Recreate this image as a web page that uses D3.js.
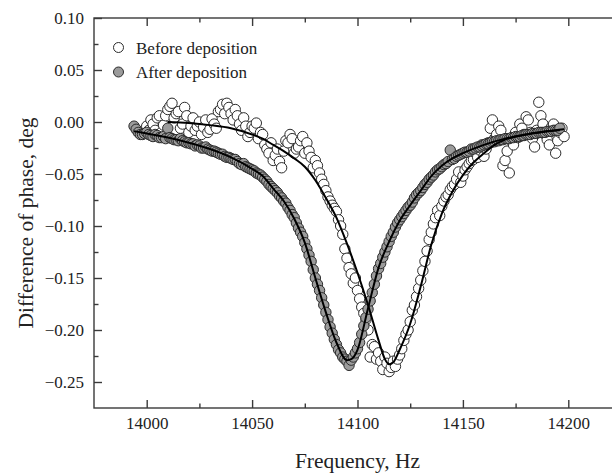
<!DOCTYPE html>
<html>
<head>
<meta charset="utf-8">
<script src="https://cdn.jsdelivr.net/npm/d3@7"></script>
<style>
  body { margin: 0; background: #fff; }
  svg text { font-family: "Liberation Serif", "Times New Roman", serif; fill: #222; }
</style>
</head>
<body>
<svg id="chart" width="612" height="476"></svg>
<script>
// tick values
var xMajor = [14000, 14050, 14100, 14150, 14200];
var xMinor = [14025, 14075, 14125, 14175];
var yMajor = [0.10, 0.05, 0.00, -0.05, -0.10, -0.15, -0.20, -0.25];
var yMinor = [0.075, 0.025, -0.025, -0.075, -0.125, -0.175, -0.225];

// "Before deposition" measured points [Hz, deg]
var beforeData = [
  [14000,-0.004],[14002,0.002],[14004,-0.008],[14006,0.006],[14008,-0.003],[14010,0.012],
  [14012,0.018],[14014,0.008],[14016,-0.006],[14018,0.014],[14020,-0.010],[14022,0.004],
  [14024,-0.004],[14026,-0.012],[14028,0.002],[14030,-0.007],[14032,-0.002],[14034,0.010],
  [14036,0.017],[14038,0.018],[14040,0.008],[14042,0.012],[14044,-0.002],[14046,0.004],
  [14048,-0.014],[14050,-0.004],[14052,-0.001],[14054,-0.010],[14056,-0.022],[14058,-0.030],
  [14060,-0.037],[14062,-0.026],[14064,-0.044],[14066,-0.018],[14068,-0.012],[14070,-0.030],
  [14072,-0.024],[14074,-0.014],[14076,-0.020],[14078,-0.034],[14080,-0.037],[14082,-0.049],
  [14084,-0.060],[14086,-0.072],[14088,-0.080],[14089,-0.083],[14090,-0.086],[14091,-0.094],
  [14092,-0.100],[14093,-0.108],[14094,-0.122],[14095,-0.131],[14096,-0.140],[14097,-0.146],
  [14098,-0.155],[14099,-0.150],[14100,-0.162],[14101,-0.170],[14102,-0.178],[14103,-0.184],
  [14104,-0.190],[14105,-0.200],[14106,-0.226],[14107,-0.214],[14108,-0.216],[14109,-0.228],
  [14110,-0.222],[14111,-0.230],[14112,-0.238],[14113,-0.226],[14114,-0.232],[14115,-0.240],
  [14116,-0.236],[14117,-0.230],[14118,-0.235],[14119,-0.228],[14120,-0.224],[14121,-0.218],
  [14122,-0.210],[14123,-0.204],[14124,-0.200],[14125,-0.192],[14126,-0.181],[14127,-0.176],
  [14128,-0.168],[14129,-0.160],[14130,-0.152],[14131,-0.143],[14132,-0.134],[14133,-0.124],
  [14134,-0.113],[14135,-0.106],[14136,-0.098],[14137,-0.092],[14138,-0.085],[14139,-0.090],
  [14140,-0.081],[14141,-0.076],[14142,-0.072],[14144,-0.065],[14146,-0.060],[14148,-0.048],
  [14150,-0.052],[14152,-0.043],[14154,-0.037],[14156,-0.030],[14158,-0.027],[14160,-0.033],
  [14162,-0.020],[14164,0.002],[14166,-0.012],[14168,-0.008],[14170,-0.037],[14172,-0.049],
  [14174,-0.022],[14176,-0.015],[14178,-0.006],[14180,0.005],[14182,-0.010],[14184,-0.024],
  [14186,0.019],[14188,-0.002],[14190,-0.017],[14192,-0.005],[14194,-0.030],[14196,-0.010],
  [14198,-0.014]
];
// second pass of the same sweep, between the points above
var beforeData2 = [
  [14001,-0.008],[14003,-0.002],[14005,0.004],[14007,-0.010],[14009,0.006],[14011,0.015],
  [14013,0.004],[14015,0.010],[14017,-0.002],[14019,0.006],[14021,-0.004],[14023,-0.008],
  [14025,0.000],[14027,-0.005],[14029,-0.010],[14031,0.003],[14033,-0.006],[14035,0.012],
  [14037,0.008],[14039,0.014],[14041,0.002],[14043,0.006],[14045,-0.008],[14047,-0.004],
  [14049,-0.010],[14051,-0.006],[14053,-0.016],[14055,-0.012],[14057,-0.026],[14059,-0.020],
  [14061,-0.032],[14063,-0.038],[14065,-0.028],[14067,-0.020],[14069,-0.016],[14071,-0.026],
  [14073,-0.018],[14075,-0.030],[14077,-0.028],[14079,-0.044],[14081,-0.042],[14083,-0.055],
  [14085,-0.066],[14087,-0.076],
  [14143,-0.070],[14145,-0.062],[14147,-0.055],[14149,-0.058],[14151,-0.046],[14153,-0.040],
  [14155,-0.036],[14157,-0.034],[14159,-0.022],[14161,-0.026],[14163,-0.006],[14165,-0.016],
  [14167,-0.004],[14169,-0.042],[14171,-0.028],[14173,-0.018],[14175,-0.010],[14177,-0.002],
  [14179,-0.012],[14181,0.002],[14183,-0.016],[14185,-0.008],[14187,0.006],[14189,-0.012],
  [14191,-0.022],[14193,-0.002],[14195,-0.018],[14197,-0.006]
];

// "After deposition" measured points [Hz, deg]
var afterData = [
  [13994,-0.004],[13996,-0.010],[13998,-0.012],[14000,-0.010],[14002,-0.013],[14004,-0.012],
  [14006,-0.015],[14008,-0.014],[14010,-0.006],[14012,-0.016],[14014,-0.017],[14016,-0.016],
  [14018,-0.019],[14020,-0.020],[14022,-0.021],[14024,-0.022],[14026,-0.025],[14028,-0.024],
  [14030,-0.027],[14032,-0.028],[14034,-0.030],[14036,-0.031],[14038,-0.034],[14040,-0.035],
  [14042,-0.036],[14044,-0.040],[14046,-0.040],[14048,-0.044],[14050,-0.046],[14052,-0.049],
  [14054,-0.051],[14056,-0.055],[14058,-0.060],[14060,-0.064],[14061,-0.066],[14062,-0.068],
  [14063,-0.071],[14064,-0.073],[14065,-0.076],[14066,-0.078],[14067,-0.082],[14068,-0.085],
  [14069,-0.089],[14070,-0.092],[14071,-0.097],[14072,-0.102],[14073,-0.106],[14074,-0.110],
  [14075,-0.116],[14076,-0.122],[14077,-0.128],[14078,-0.134],[14079,-0.142],[14080,-0.150],
  [14081,-0.156],[14082,-0.162],[14083,-0.169],[14084,-0.176],[14085,-0.183],[14086,-0.190],
  [14087,-0.197],[14088,-0.203],[14089,-0.209],[14090,-0.214],[14091,-0.219],[14092,-0.222],
  [14093,-0.226],[14094,-0.228],[14095,-0.230],[14096,-0.234],[14097,-0.229],[14098,-0.226],
  [14099,-0.222],[14100,-0.218],[14101,-0.212],[14102,-0.204],[14103,-0.196],[14104,-0.188],
  [14105,-0.180],[14106,-0.172],[14107,-0.164],[14108,-0.156],[14109,-0.148],[14110,-0.141],
  [14111,-0.136],[14112,-0.130],[14113,-0.125],[14114,-0.120],[14115,-0.115],[14116,-0.110],
  [14117,-0.106],[14118,-0.101],[14119,-0.097],[14120,-0.094],[14121,-0.091],[14122,-0.088],
  [14123,-0.085],[14124,-0.082],[14125,-0.080],[14126,-0.077],[14127,-0.073],[14128,-0.070],
  [14130,-0.066],[14132,-0.060],[14134,-0.055],[14136,-0.051],[14138,-0.046],[14140,-0.043],
  [14142,-0.040],[14144,-0.027],[14146,-0.035],[14148,-0.032],[14150,-0.030],[14152,-0.029],
  [14154,-0.026],[14156,-0.025],[14158,-0.024],[14160,-0.022],[14162,-0.021],[14164,-0.019],
  [14166,-0.018],[14168,-0.017],[14170,-0.016],[14172,-0.016],[14174,-0.015],[14176,-0.014],
  [14178,-0.013],[14180,-0.012],[14182,-0.012],[14184,-0.011],[14186,-0.010],[14188,-0.010],
  [14190,-0.009],[14192,-0.009],[14194,-0.008],[14196,-0.006]
];
var afterData2 = [
  [13995,-0.007],[13997,-0.012],[13999,-0.011],[14001,-0.012],[14003,-0.014],[14005,-0.013],
  [14007,-0.015],[14009,-0.016],[14011,-0.015],[14013,-0.017],[14015,-0.018],[14017,-0.018],
  [14019,-0.020],[14021,-0.021],[14023,-0.023],[14025,-0.023],[14027,-0.025],[14029,-0.026],
  [14031,-0.028],[14033,-0.029],[14035,-0.031],[14037,-0.033],[14039,-0.034],[14041,-0.036],
  [14043,-0.038],[14045,-0.041],[14047,-0.043],[14049,-0.045],[14051,-0.047],[14053,-0.050],
  [14055,-0.053],[14057,-0.057],[14059,-0.062],
  [14129,-0.068],[14131,-0.063],[14133,-0.058],[14135,-0.053],[14137,-0.048],[14139,-0.045],
  [14141,-0.041],[14143,-0.038],[14145,-0.036],[14147,-0.033],[14149,-0.031],[14151,-0.029],
  [14153,-0.028],[14155,-0.026],[14157,-0.024],[14159,-0.023],[14161,-0.021],[14163,-0.020],
  [14165,-0.019],[14167,-0.018],[14169,-0.017],[14171,-0.016],[14173,-0.015],[14175,-0.014],
  [14177,-0.014],[14179,-0.013],[14181,-0.012],[14183,-0.011],[14185,-0.011],[14187,-0.010],
  [14189,-0.010],[14191,-0.009],[14193,-0.008],[14195,-0.008]
];

// fitted curves [Hz, deg]
var beforeFit = [
  [14010,0.000],[14020,-0.001],[14030,-0.003],[14040,-0.006],[14050,-0.012],[14055,-0.016],
  [14060,-0.022],[14065,-0.028],[14070,-0.035],[14075,-0.043],[14080,-0.056],[14085,-0.073],
  [14090,-0.092],[14095,-0.117],[14100,-0.145],[14105,-0.176],[14110,-0.210],[14113,-0.228],
  [14115,-0.233],[14117,-0.231],[14120,-0.219],[14125,-0.194],[14130,-0.158],[14135,-0.118],
  [14140,-0.088],[14145,-0.067],[14150,-0.051],[14155,-0.039],[14160,-0.030],[14165,-0.022],
  [14170,-0.017],[14180,-0.012],[14190,-0.009],[14198,-0.007]
];
var afterFit = [
  [13994,-0.009],[14000,-0.011],[14010,-0.015],[14020,-0.020],[14030,-0.026],[14040,-0.034],
  [14050,-0.045],[14055,-0.052],[14060,-0.064],[14065,-0.076],[14070,-0.093],[14075,-0.116],
  [14080,-0.150],[14085,-0.183],[14090,-0.212],[14095,-0.229],[14097,-0.228],[14100,-0.219],
  [14105,-0.179],[14110,-0.140],[14115,-0.115],[14120,-0.095],[14125,-0.080],[14130,-0.066],
  [14135,-0.052],[14140,-0.042],[14145,-0.035],[14150,-0.030],[14160,-0.022],[14170,-0.016],
  [14180,-0.012],[14190,-0.009],[14196,-0.008]
];

var legendItems = [
  {label: "Before deposition", fill: "#ffffff"},
  {label: "After deposition", fill: "#9b9b9b"}
];

//plot box (right edge runs past the window, as in the picture)
var plot = {left: 94, right: 621, top: 18, bottom: 408};

var x = d3.scaleLinear().domain([13975, 14225]).range([plot.left, plot.right]);
var y = d3.scaleLinear().domain([0.10, -0.275]).range([plot.top, plot.bottom]);

var svg = d3.select("#chart");
var axisColor = "#3a3a3a";

//frame
svg.append("rect")
    .attr("x", plot.left)
    .attr("y", plot.top)
    .attr("width", plot.right - plot.left)
    .attr("height", plot.bottom - plot.top)
    .attr("fill", "none")
    .attr("stroke", axisColor)
    .attr("stroke-width", 1.4);

//inward ticks on an axis, majors and minors
function drawTicks(axisFn, scale, values, size, pos, labels) {
    var g = svg.append("g")
        .attr("transform", pos)
        .call(axisFn(scale)
            .tickValues(values)
            .tickSizeInner(-size)
            .tickSizeOuter(0)
            .tickPadding(labels ? 9 : 0)
            .tickFormat(labels ? labels : ""));
    g.select(".domain").remove();
    g.selectAll(".tick line").attr("stroke", axisColor).attr("stroke-width", 1.4);
    return g;
}

var xb = drawTicks(d3.axisBottom, x, xMajor, 8, "translate(0," + plot.bottom + ")", d3.format("d"));
drawTicks(d3.axisBottom, x, xMinor, 4.5, "translate(0," + plot.bottom + ")", null);
drawTicks(d3.axisTop, x, xMajor, 8, "translate(0," + plot.top + ")", null);
drawTicks(d3.axisTop, x, xMinor, 4.5, "translate(0," + plot.top + ")", null);
var yl = drawTicks(d3.axisLeft, y, yMajor, 8, "translate(" + plot.left + ",0)", d3.format(".2f"));
drawTicks(d3.axisLeft, y, yMinor, 4.5, "translate(" + plot.left + ",0)", null);

xb.selectAll("text").attr("font-size", 17).attr("font-family", "Liberation Serif").attr("fill", "#222");
yl.selectAll("text").attr("font-size", 17).attr("font-family", "Liberation Serif").attr("fill", "#222")
    .attr("dx", -1);

//axis titles
svg.append("text")
    .attr("x", (plot.left + plot.right) / 2)
    .attr("y", 468)
    .attr("text-anchor", "middle")
    .attr("font-size", 21.5)
    .text("Frequency, Hz");

svg.append("text")
    .attr("transform", "translate(33,223) rotate(-90)")
    .attr("text-anchor", "middle")
    .attr("font-size", 21.5)
    .text("Difference of phase, deg");

//points: before first, after on top
var pointStroke = "#2b2b2b";
function drawPoints(data, fill) {
    svg.append("g").selectAll("circle")
        .data(data)
        .join("circle")
        .attr("cx", d => x(d[0]))
        .attr("cy", d => y(d[1]))
        .attr("r", 5.2)
        .attr("fill", fill)
        .attr("stroke", pointStroke)
        .attr("stroke-width", 1);
}
drawPoints(beforeData.concat(beforeData2).sort((a, b) => a[0] - b[0]), "#ffffff");
drawPoints(afterData.concat(afterData2).sort((a, b) => a[0] - b[0]), "#9b9b9b");

//fit lines
var line = d3.line()
    .x(d => x(d[0]))
    .y(d => y(d[1]))
    .curve(d3.curveMonotoneX);

[beforeFit, afterFit].forEach(function(fit) {
    svg.append("path")
        .datum(fit)
        .attr("d", line)
        .attr("fill", "none")
        .attr("stroke", "#000")
        .attr("stroke-width", 2);
});

//legend
var leg = svg.append("g");
legendItems.forEach(function(item, i) {
    leg.append("circle")
        .attr("cx", 118.5)
        .attr("cy", 47.5 + i * 24.5)
        .attr("r", 5)
        .attr("fill", item.fill)
        .attr("stroke", pointStroke)
        .attr("stroke-width", 1);
    leg.append("text")
        .attr("x", 136)
        .attr("y", 53.5 + i * 24.5)
        .attr("font-size", 17)
        .text(item.label);
});
</script>
</body>
</html>
